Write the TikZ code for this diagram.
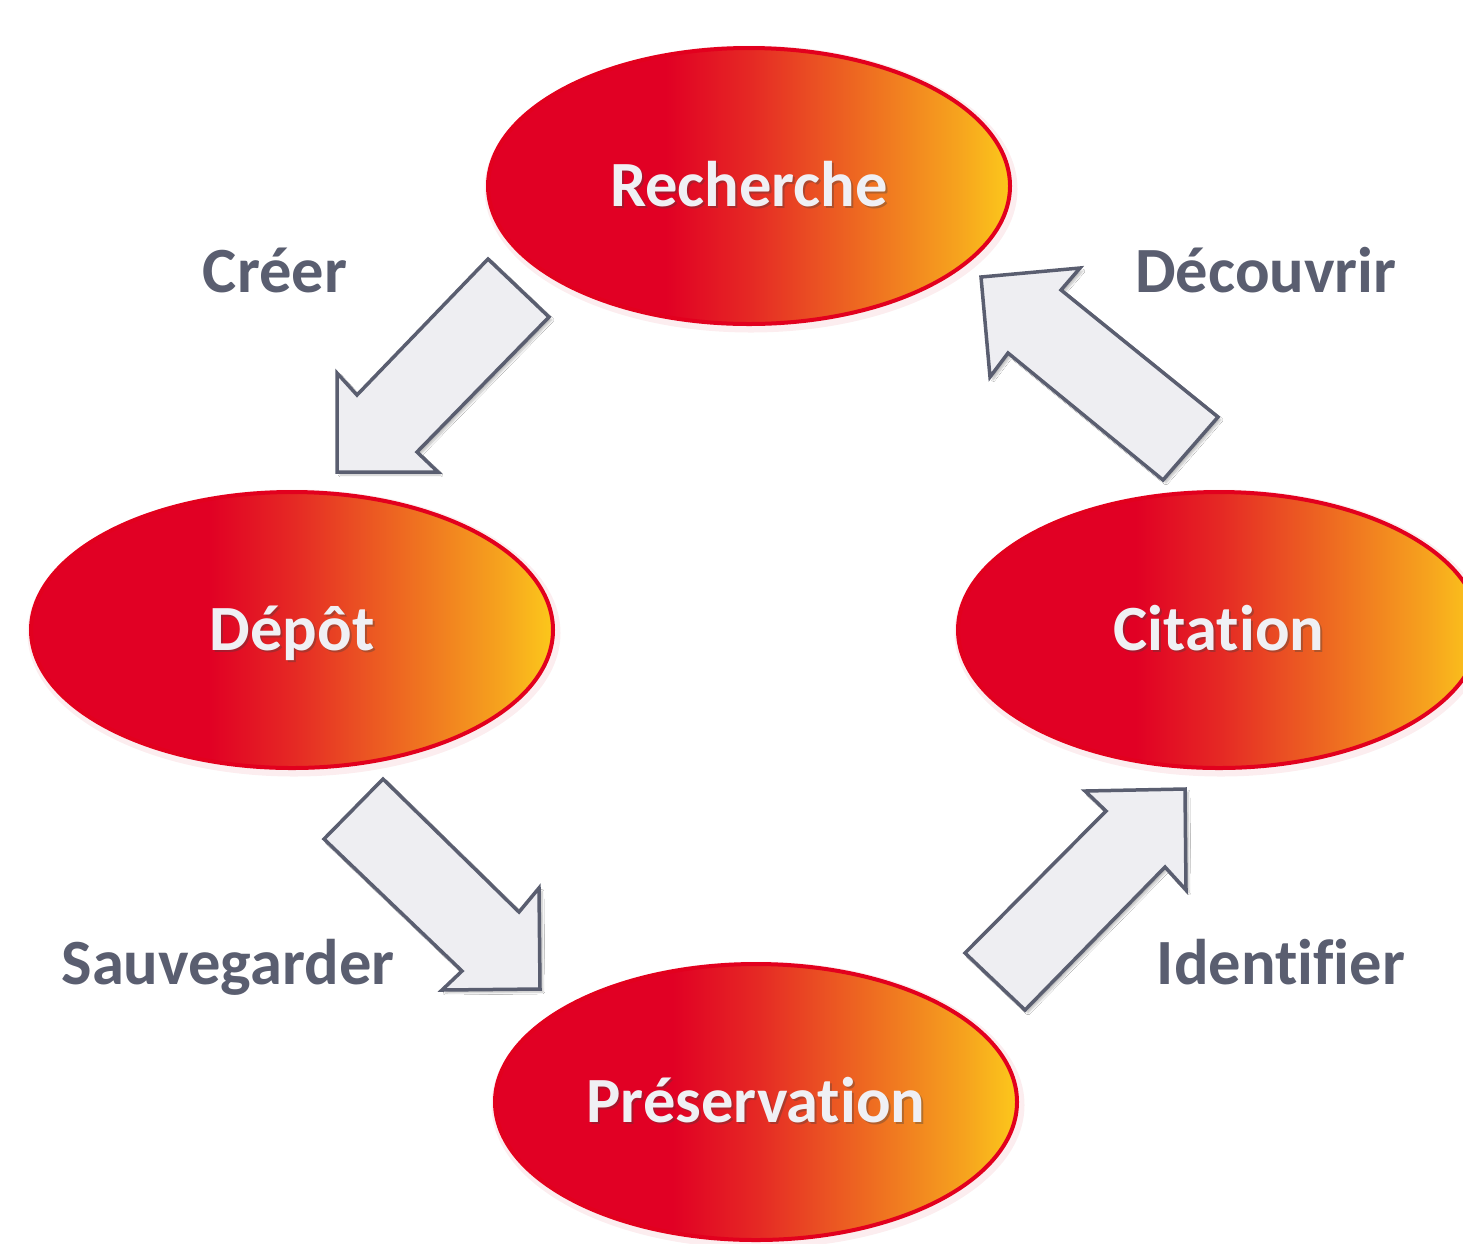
\documentclass[tikz,border=0pt]{standalone}
\usepackage{fontspec}
\setmainfont{Carlito}[Ligatures={NoCommon}]
\usetikzlibrary{shapes.geometric,shadows.blur}
\definecolor{ellred}{RGB}{226,0,30}
\definecolor{gA}{RGB}{225,0,36}
\definecolor{gB}{RGB}{229,40,36}
\definecolor{gC}{RGB}{234,78,35}
\definecolor{gD}{RGB}{240,120,32}
\definecolor{gE}{RGB}{246,163,30}
\definecolor{gF}{RGB}{252,200,27}
\definecolor{labelgray}{RGB}{90,94,112}
\definecolor{arrowfill}{RGB}{238,238,242}
\definecolor{arrowline}{RGB}{90,94,112}
\definecolor{textwhite}{RGB}{240,240,244}
\pgfdeclarehorizontalshading{stageshade}{100bp}{color(0bp)=(gA); color(25bp)=(gA); color(42bp)=(gA); color(50bp)=(gB); color(56bp)=(gC); color(63bp)=(gD); color(70bp)=(gE); color(75bp)=(gF); color(100bp)=(gF)}
\begin{document}
\begin{tikzpicture}[x=1pt,y=-1pt,
  stage/.style={ellipse, minimum width=522pt, minimum height=276pt, inner sep=0pt,
    draw=ellred, line width=4pt, shading=stageshade,
    preaction={draw=ellred, line width=11pt, opacity=0.07, transform canvas={shift={(2pt,-3pt)}}}},
  stxt/.style={text=textwhite, font=\fontsize{64.5}{72}\selectfont\bfseries, text height=41.5pt, text depth=0pt, inner sep=0pt},
  stshadow/.style={stxt, text=black!75, opacity=0.35},
  lbl/.style={text=labelgray, font=\fontsize{64.5}{72}\selectfont\bfseries, anchor=base, inner sep=0pt},
  blockarrow/.style={fill=arrowfill, draw=arrowline, line width=3.5pt, line join=miter,
    blur shadow={shadow xshift=3pt, shadow yshift=-3pt, shadow opacity=25, shadow blur steps=6}},
]
\useasboundingbox (0,0) rectangle (1463,1243);
\fill[white] (0,0) rectangle (1463,1243);
\clip (0,0) rectangle (1463,1243);

% stages
\node[stage] (rech) at (749,186) {};
\node[stage] (depot) at (292,630) {};
\node[stage] (cita) at (1219,630) {};
\node[stage] (pres) at (756,1102) {};

\node[stshadow] at ([shift={(2,2)}]rech.center) {Recherche};
\node[stxt] (rechT) at (rech.center) {Recherche};
\node[stshadow] at ([shift={(2,2)}]depot.center) {Dépôt};
\node[stxt] (depotT) at (depot.center) {Dépôt};
\node[stshadow] at ([shift={(2,2)}]cita.center) {Citation};
\node[stxt] (citaT) at (cita.center) {Citation};
\node[stshadow] at ([shift={(2,2)}]pres.center) {Préservation};
\node[stxt] (presT) at (pres.center) {Préservation};

% labels
\node[lbl] (creer) at (275,292) {Créer};
\node[lbl] (decouv) at (1266,292) {Découvrir};
\node[lbl] (sauv) at (228,984) {Sauvegarder};
\node[lbl] (ident) at (1281,984) {Identifier};

% block arrows
\draw[blockarrow] (488,259) -- (549,317) -- (417,452) -- (438,472) -- (337,472) -- (337,373) -- (357,395) -- cycle;
\draw[blockarrow] (981,277) -- (1080,268) -- (1061,290) -- (1218,417) -- (1163,480) -- (1008,353) -- (990,377) -- cycle;
\draw[blockarrow] (383,779) -- (324,839) -- (462,971) -- (442,990) -- (540,989) -- (539,888) -- (519,912) -- cycle;
\draw[blockarrow] (1185,789) -- (1186,890) -- (1165,867) -- (1025,1010) -- (965,953) -- (1106,811) -- (1085,791) -- cycle;
\end{tikzpicture}
\end{document}
